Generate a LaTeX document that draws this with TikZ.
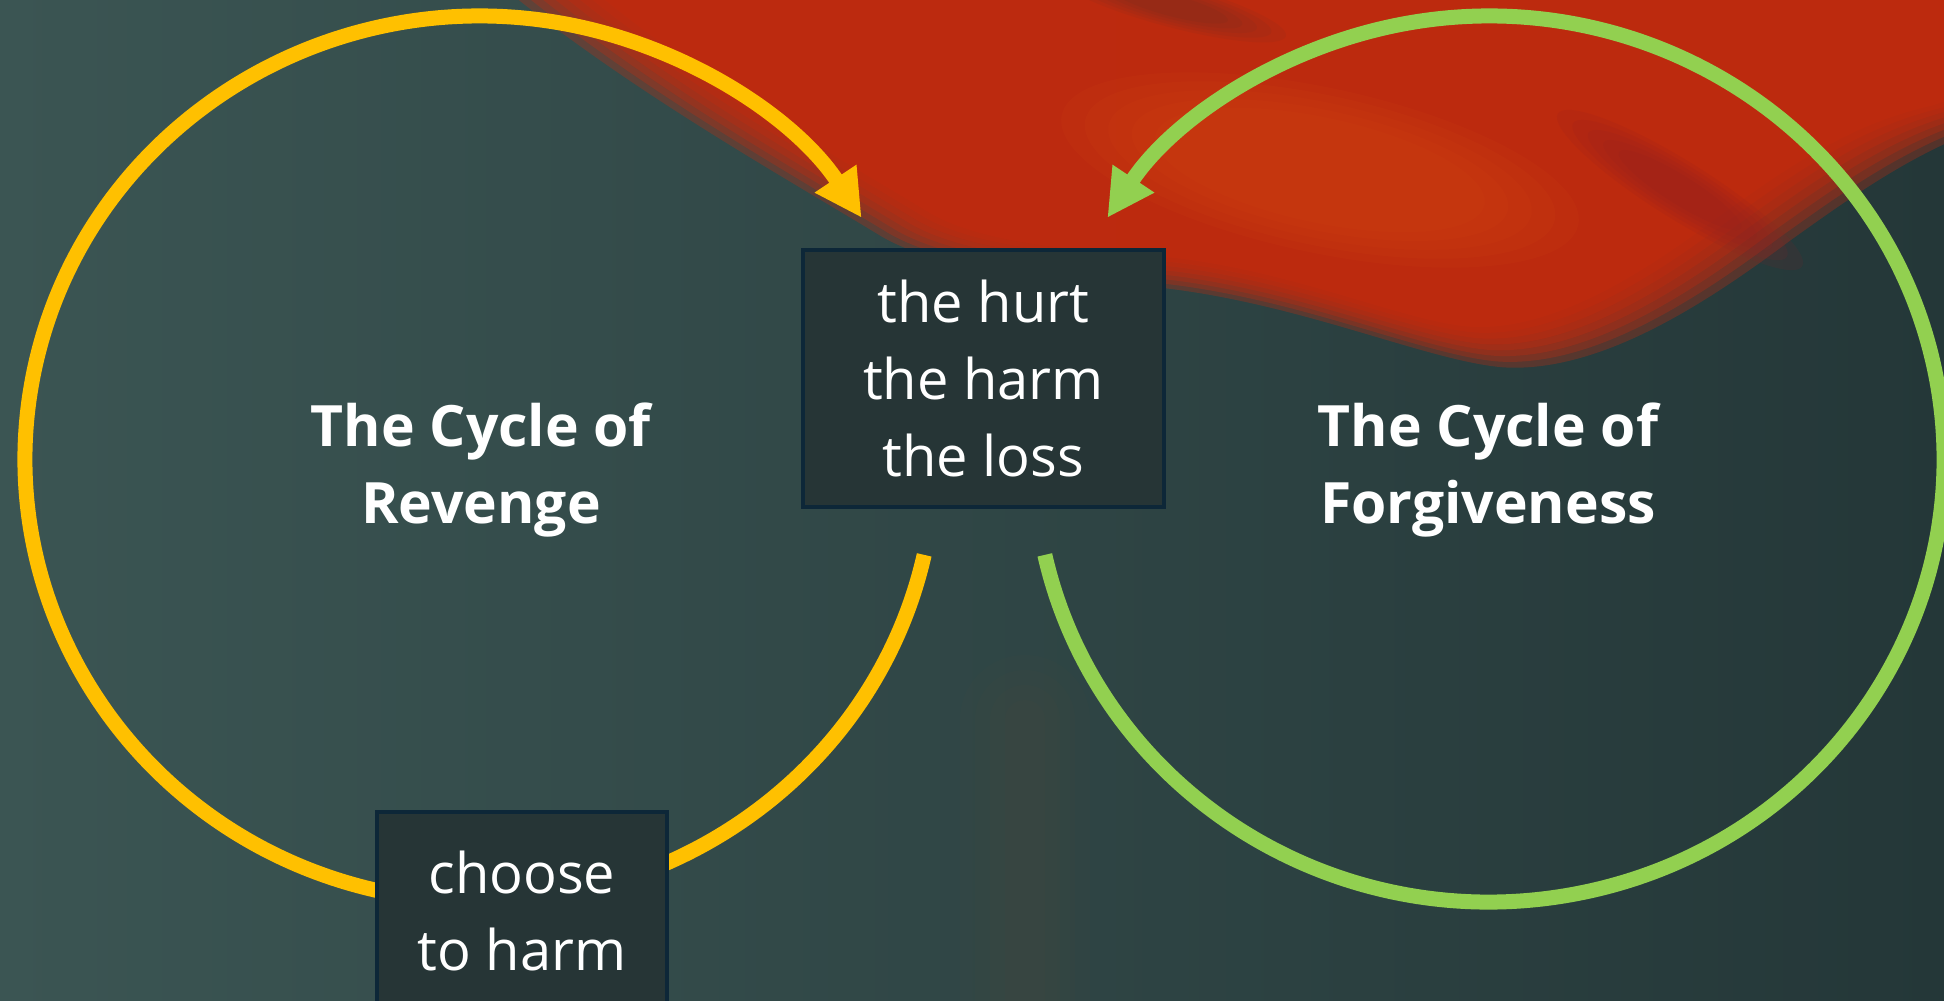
\documentclass[tikz,border=0pt]{standalone}
\usepackage{fontspec}
\setmainfont{Open Sans}
\usetikzlibrary{arrows.meta}

\definecolor{tealL}{HTML}{3B5553}
\definecolor{tealR}{HTML}{243738}
\definecolor{petal}{HTML}{C62A0D}
\definecolor{petalglow}{HTML}{D4470F}
\definecolor{crimson}{HTML}{8E1F24}
\definecolor{shadow}{HTML}{283A3A}
\definecolor{gold}{HTML}{FFC000}
\definecolor{leaf}{HTML}{92D050}
\definecolor{boxfill}{HTML}{263536}
\definecolor{boxedge}{HTML}{0D2738}

\tikzset{
    cyclearc/.style={line width=7.5pt, -{Triangle[length=23.5pt,width=23.5pt]}},
    wordbox/.style={draw=boxedge, line width=2pt, fill=boxfill, text=white, align=center,
        anchor=north, font=\fontsize{28}{38.5}\selectfont},
    cycletitle/.style={text=white, align=center, inner sep=0pt, anchor=north,
        font=\fontsize{28.5}{38.5}\selectfont\bfseries},
}

\begin{document}
\begin{tikzpicture}[x=0.5pt, y=-0.5pt]
    \useasboundingbox (0,0) rectangle (1944,1001);
    \clip (0,0) rectangle (1944,1001);
    % background
    \shade [left color=tealL, right color=tealR] (0,0) rectangle (1944,1001);
    % blurred petal
    \foreach \s in {0.92,0.94,...,1.08}
        \fill [petal, opacity=0.3, scale around={\s:(1250,60)}] (400,-150) .. controls (540,20) and (760,140) .. (900,225) .. controls (960,262) and (1080,268) .. (1167,275) .. controls (1300,290) and (1420,345) .. (1490,350) .. controls (1580,355) and (1680,290) .. (1760,230) .. controls (1830,180) and (1900,130) .. (1990,110) -- (2150,60) -- (2150,-150) -- cycle;
    \foreach \s in {0.7,0.8,...,1.2}
        \fill [petalglow, opacity=0.12, scale around={\s:(1320,170)}, rotate around={-12:(1320,170)}] (1320,170) ellipse [x radius=240, y radius=75];
    % dark streaks
    \foreach \s in {0.6,0.75,...,1.2}
        \fill [crimson, opacity=0.12, scale around={\s:(1680,190)}, rotate around={-32:(1680,190)}] (1680,190) ellipse [x radius=120, y radius=24];
    \foreach \s in {0.6,0.75,...,1.2}
        \fill [shadow, opacity=0.05, scale around={\s:(1170,5)}, rotate around={-15:(1170,5)}] (1170,5) ellipse [x radius=100, y radius=18];
    \foreach \w in {20,35,...,65}
        \draw [petalglow, opacity=0.015, line width=\w pt, line cap=round] (1025,720) to (1025,1040);
    % the two cycles
    \coordinate (5) at (480,459); % revenge centre
    \coordinate (6) at (1489,459); % forgiveness centre
    \draw [cyclearc, gold] (5) ++(-12.5:227.5pt and 221.5pt) arc [start angle=-12.5, end angle=-327, x radius=227.5pt, y radius=221.5pt];
    \draw [cyclearc, leaf] (6) ++(192.5:227.5pt and 221.5pt) arc [start angle=192.5, end angle=507, x radius=227.5pt, y radius=221.5pt];
    % boxes
    \node [wordbox, minimum width=180.5pt, inner ysep=15pt] (1) at (983.5,248) {the hurt\\the harm\\the loss};
    \node [wordbox, minimum width=145pt, inner ysep=19.5pt] (2) at (522,810) {choose\\to harm};
    % titles
    \node [cycletitle] (3) at (481,402) {The Cycle of\\Revenge};
    \node [cycletitle] (4) at (1488,402) {The Cycle of\\Forgiveness};
\end{tikzpicture}
\end{document}
